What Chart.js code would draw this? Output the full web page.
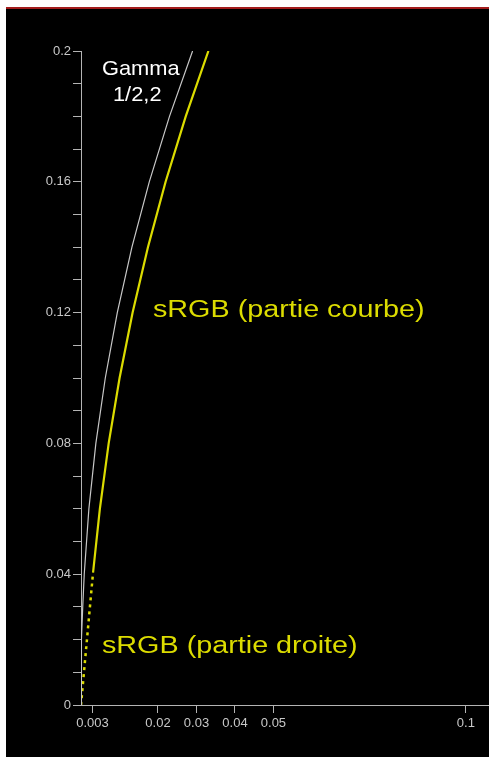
<!DOCTYPE html>
<html>
<head>
<meta charset="utf-8">
<script src="https://cdn.jsdelivr.net/npm/chart.js@4/dist/chart.umd.min.js"></script>
<style>
  html, body { margin: 0; padding: 0; background: #fff; }
  #wrap { position: relative; width: 489px; height: 757px; overflow: hidden; }
  #topline { position: absolute; left: 6px; top: 7px; width: 483px; height: 2px; background: #a31c1c; }
  #graph { position: absolute; left: 6px; top: 9px; }
</style>
</head>
<body>
<div id="wrap">
  <div id="topline"></div>
  <canvas id="graph" width="483" height="748"></canvas>
</div>
<script>
// Gamma 1/2,2 (courbe blanche)
var gammaX = [0, 0.00004, 0.00018, 0.00045, 0.00084, 0.00205, 0.00386, 0.00631, 0.00943, 0.01323, 0.01774, 0.02299, 0.02899];
var gammaY = [0, 0.01, 0.02, 0.03, 0.04, 0.06, 0.08, 0.10, 0.12, 0.14, 0.16, 0.18, 0.20];

// sRGB partie courbe (jaune plein)
var courbeX = [0.00313, 0.0049, 0.00719, 0.01002, 0.01341, 0.01739, 0.02198, 0.02721, 0.0331];
var courbeY = [0.0405, 0.06, 0.08, 0.10, 0.12, 0.14, 0.16, 0.18, 0.20];

// sRGB partie droite (jaune pointillé)
var droiteX = [0, 0.00313];
var droiteY = [0, 0.0405];

// graduations de l'axe x
var xTicks = [0.003, 0.02, 0.03, 0.04, 0.05, 0.1];

// textes
var labelTexts = ['Gamma', '1/2,2', 'sRGB (partie courbe)', 'sRGB (partie droite)'];
var labelX = [0.00545, 0.0083, 0.0187, 0.00545];
var labelY = [0.1927, 0.1847, 0.1187, 0.0159];
var labelColors = ['#ffffff', '#ffffff', '#dcdc00', '#dcdc00'];
var labelSizes = [21, 21, 23, 23];
var labelStretch = [1.04, 1.04, 1.25, 1.25];

function pts(xs, ys) {
  var out = [];
  for (var i = 0; i < xs.length; i++) out.push({x: xs[i], y: ys[i]});
  return out;
}

var fond = {
  id: 'fond',
  beforeDraw: function (chart) {
    var c = chart.ctx;
    c.save();
    c.fillStyle = '#000';
    c.fillRect(0, 0, chart.width, chart.height);
    c.restore();
  }
};

var textes = {
  id: 'textes',
  afterDatasetsDraw: function (chart) {
    var c = chart.ctx;
    var sx = chart.scales.x, sy = chart.scales.y;
    c.save();
    c.textBaseline = 'alphabetic';
    for (var i = 0; i < labelTexts.length; i++) {
      c.save();
      c.font = labelSizes[i] + 'px "Liberation Sans", Arial, sans-serif';
      c.translate(sx.getPixelForValue(labelX[i]), sy.getPixelForValue(labelY[i]));
      c.scale(labelStretch[i], 1);
      c.fillStyle = labelColors[i];
      c.fillText(labelTexts[i], 0, 0);
      c.restore();
    }
    c.restore();
  }
};

var axe = '#b4b4b4';

var ctx = document.getElementById('graph').getContext('2d');
new Chart(ctx, {
  type: 'scatter',
  data: {
    datasets: [
      {
        data: pts(gammaX, gammaY),
        showLine: true, borderColor: '#c8c8c8', borderWidth: 1.2,
        pointRadius: 0, tension: 0
      },
      {
        data: pts(courbeX, courbeY),
        showLine: true, borderColor: '#dcdc00', borderWidth: 2.2,
        pointRadius: 0, tension: 0
      },
      {
        data: pts(droiteX, droiteY),
        showLine: true, borderColor: '#dcdc00', borderWidth: 2.5,
        borderDash: [3, 4], pointRadius: 0, tension: 0
      }
    ]
  },
  options: {
    responsive: false,
    animation: false,
    devicePixelRatio: 1,
    layout: { padding: { top: 42, left: 0, right: 0, bottom: 0 } },
    plugins: { legend: { display: false }, tooltip: { enabled: false } },
    scales: {
      x: {
        type: 'linear', min: 0, max: 0.106,
        afterBuildTicks: function (s) { s.ticks = xTicks.map(function (v) { return {value: v}; }); },
        afterFit: function (s) { s.height = 52; },
        grid: { drawOnChartArea: false, tickLength: 8, color: axe },
        border: { color: axe, width: 1 },
        ticks: {
          color: '#c8c8c8', padding: 3, maxRotation: 0, autoSkip: false,
          font: { family: '"Liberation Sans", Arial, sans-serif', size: 13 },
          callback: function (v) { return String(v); }
        }
      },
      y: {
        type: 'linear', min: 0, max: 0.2,
        afterFit: function (s) { s.width = 75; },
        grid: { drawOnChartArea: false, tickLength: 8, color: axe },
        border: { color: axe, width: 1 },
        ticks: {
          stepSize: 0.01, color: '#c8c8c8', padding: 2, autoSkip: false,
          font: { family: '"Liberation Sans", Arial, sans-serif', size: 13 },
          callback: function (v) {
            var k = Math.round(v * 100);
            return k % 4 === 0 ? String(k / 100) : '';
          }
        }
      }
    }
  },
  plugins: [fond, textes]
});
</script>
</body>
</html>
